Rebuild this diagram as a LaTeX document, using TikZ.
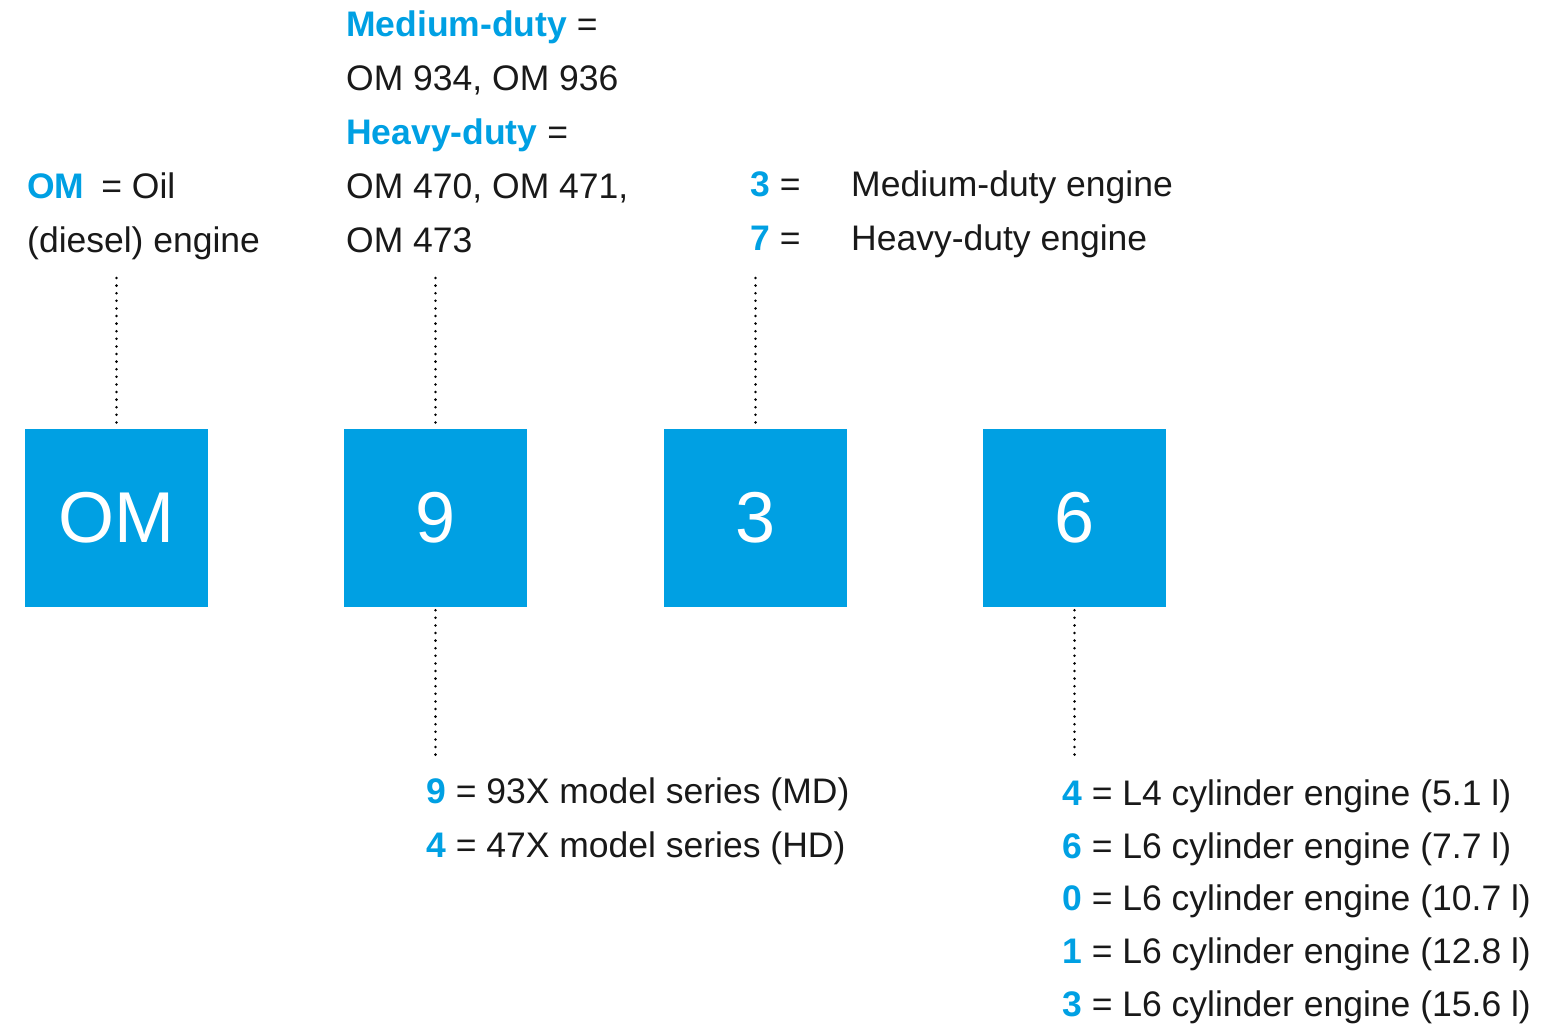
\documentclass[tikz,border=0pt]{standalone}
\usepackage{fontspec}
\setmainfont{Liberation Sans}
\definecolor{dblue}{RGB}{0,160,227}
\definecolor{txt}{RGB}{25,25,25}
\tikzset{
  codebox/.style={fill=dblue, draw=none, minimum width=183pt, minimum height=178pt, inner sep=0pt,
    text=white, font=\fontsize{72}{80}\selectfont},
  lbl/.style={anchor=base west, inner sep=0pt, text=txt, font=\fontsize{35.5}{42}\selectfont},
  dotline/.style={line width=2.8pt, line cap=round, dash pattern=on 0pt off 7.6pt, draw=black}
}
\newcommand{\bl}[1]{\textcolor{dblue}{\textbf{#1}}}
\begin{document}
\begin{tikzpicture}[x=1pt,y=-1pt]
\useasboundingbox (0,0) rectangle (1541,1029);
% boxes
\node[codebox] (bOM) at (116.5,518) {OM};
\node[codebox] (b9) at (435.5,518) {9};
\node[codebox] (b3) at (755.5,518) {3};
\node[codebox] (b6) at (1074.5,518) {6};
% OM label
\node[lbl] (omA) at (27,198) {\bl{OM}\hspace{17pt}= Oil};
\node[lbl] (omB) at (27,252) {(diesel) engine};
% 9 label top
\node[lbl] (t1) at (346,36) {\bl{Medium-duty} =};
\node[lbl] (t2) at (346,90) {OM 934, OM 936};
\node[lbl] (t3) at (346,144) {\bl{Heavy-duty} =};
\node[lbl] (t4) at (346,198) {OM 470, OM 471,};
\node[lbl] (t5) at (346,252) {OM 473};
% 3 label
\node[lbl] (s1k) at (750,196) {\bl{3} =};
\node[lbl] (s1v) at (851,196) {Medium-duty engine};
\node[lbl] (s2k) at (750,250) {\bl{7} =};
\node[lbl] (s2v) at (851,250) {Heavy-duty engine};
% 9 label bottom
\node[lbl] (m1) at (426,803) {\bl{9} = 93X model series (MD)};
\node[lbl] (m2) at (426,857) {\bl{4} = 47X model series (HD)};
% 6 label bottom
\node[lbl] (c1) at (1062,805) {\bl{4} = L4 cylinder engine (5.1 l)};
\node[lbl] (c2) at (1062,858) {\bl{6} = L6 cylinder engine (7.7 l)};
\node[lbl] (c3) at (1062,910.5) {\bl{0} = L6 cylinder engine (10.7 l)};
\node[lbl] (c4) at (1062,963) {\bl{1} = L6 cylinder engine (12.8 l)};
\node[lbl] (c5) at (1062,1016) {\bl{3} = L6 cylinder engine (15.6 l)};
% connector ends
\coordinate (eOM) at (116.5,278);
\coordinate (e9t) at (435.5,278);
\coordinate (e3t) at (755.5,278);
\coordinate (e9b) at (435.5,757);
\coordinate (e6b) at (1074.5,757);
\draw[dotline] (eOM) -- (bOM.north);
\draw[dotline] (e9t) -- (b9.north);
\draw[dotline] (e3t) -- (b3.north);
\draw[dotline] ([yshift=-3pt]b9.south) -- (e9b);
\draw[dotline] ([yshift=-3pt]b6.south) -- (e6b);
\end{tikzpicture}
\end{document}
